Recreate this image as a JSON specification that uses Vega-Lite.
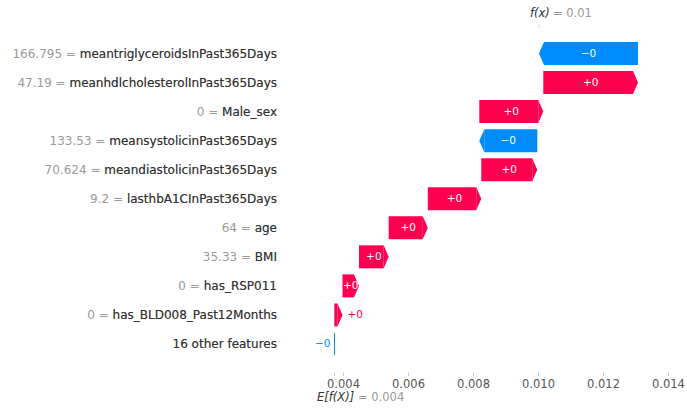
{
  "$schema": "https://vega.github.io/schema/vega-lite/v6.json",
  "width": 687,
  "height": 344,
  "autosize": {"type": "none"},
  "padding": {"left": 0, "right": 0, "top": 28, "bottom": 38},
  "background": "white",
  "config": {"view": {"stroke": null}, "font": "DejaVu Sans", "text": {"font": "DejaVu Sans"}},
  "data": {
    "values": [
      {"feature": "meantriglyceroidsInPast365Days", "label": "166.795 = meantriglyceroidsInPast365Days", "start": 0.013077, "end": 0.010031, "shap": "−0"},
      {"feature": "meanhdlcholesterolInPast365Days", "label": "47.19 = meanhdlcholesterolInPast365Days", "start": 0.010163, "end": 0.013077, "shap": "+0"},
      {"feature": "Male_sex", "label": "0 = Male_sex", "start": 0.008194, "end": 0.010163, "shap": "+0"},
      {"feature": "meansystolicinPast365Days", "label": "133.53 = meansystolicinPast365Days", "start": 0.009978, "end": 0.008194, "shap": "−0"},
      {"feature": "meandiastolicinPast365Days", "label": "70.624 = meandiastolicinPast365Days", "start": 0.008255, "end": 0.009978, "shap": "+0"},
      {"feature": "lasthbA1CInPast365Days", "label": "9.2 = lasthbA1CInPast365Days", "start": 0.006609, "end": 0.008255, "shap": "+0"},
      {"feature": "age", "label": "64 = age", "start": 0.005406, "end": 0.006609, "shap": "+0"},
      {"feature": "BMI", "label": "35.33 = BMI", "start": 0.004492, "end": 0.005406, "shap": "+0"},
      {"feature": "has_RSP011", "label": "0 = has_RSP011", "start": 0.003985, "end": 0.004492, "shap": "+0"},
      {"feature": "has_BLD008_Past12Months", "label": "0 = has_BLD008_Past12Months", "start": 0.003733, "end": 0.003985, "shap": "+0"},
      {"feature": "16 other features", "label": "16 other features", "start": 0.003738, "end": 0.003733, "shap": "−0"}
    ]
  },
  "layer": [
    {
      "transform": [{"filter": "datum.end > datum.start"}],
      "mark": {"type": "bar", "color": "#ff0051", "x2Offset": -5},
      "encoding": {
        "y": {"field": "feature", "type": "nominal", "sort": null, "axis": null,
              "scale": {"type": "band", "paddingInner": 0.208, "paddingOuter": 0.525, "align": 0.459,
                        "domain": ["meantriglyceroidsInPast365Days", "meanhdlcholesterolInPast365Days", "Male_sex", "meansystolicinPast365Days", "meandiastolicinPast365Days", "lasthbA1CInPast365Days", "age", "BMI", "has_RSP011", "has_BLD008_Past12Months", "16 other features"]}},
        "x": {"field": "start", "type": "quantitative",
              "scale": {"domain": [-0.006554, 0.014585], "nice": false, "zero": false},
              "axis": {"values": [0.003738, 0.004, 0.006, 0.008, 0.010, 0.012, 0.014], "format": ".3f",
                       "labelExpr": "datum.value < 0.0039 ? '' : datum.label",
                       "domain": false, "grid": false, "tickSize": 3.5, "tickColor": "#c8c8c8",
                       "labelColor": "#555555", "labelFontSize": 11.5, "labelPadding": 3,
                       "labelOverlap": false, "labelFlush": false, "labelBound": false,
                       "labelFont": "DejaVu Sans", "title": null}},
        "x2": {"field": "end"}
      }
    },
    {
      "transform": [{"filter": "datum.end < datum.start && datum.feature != '16 other features'"}],
      "mark": {"type": "bar", "color": "#008bfb", "x2Offset": 5},
      "encoding": {
        "y": {"field": "feature", "type": "nominal", "sort": null},
        "x": {"field": "start", "type": "quantitative"},
        "x2": {"field": "end"}
      }
    },
    {
      "transform": [{"filter": "datum.end > datum.start"}],
      "mark": {"type": "point", "shape": "M-0.4348,-1L0,0L-0.4348,1Z", "size": 529, "filled": true, "opacity": 1, "color": "#ff0051", "strokeWidth": 0},
      "encoding": {
        "y": {"field": "feature", "type": "nominal", "sort": null},
        "x": {"field": "end", "type": "quantitative"}
      }
    },
    {
      "transform": [{"filter": "datum.end < datum.start && datum.feature != '16 other features'"}],
      "mark": {"type": "point", "shape": "M0.4348,-1L0,0L0.4348,1Z", "size": 529, "filled": true, "opacity": 1, "color": "#008bfb", "strokeWidth": 0},
      "encoding": {
        "y": {"field": "feature", "type": "nominal", "sort": null},
        "x": {"field": "end", "type": "quantitative"}
      }
    },
    {
      "transform": [{"filter": "datum.feature == '16 other features'"}],
      "mark": {"type": "tick", "color": "#008bfb", "thickness": 1, "size": 22, "orient": "vertical", "opacity": 1},
      "encoding": {
        "y": {"field": "feature", "type": "nominal", "sort": null},
        "x": {"field": "start", "type": "quantitative"}
      }
    },
    {
      "transform": [
        {"filter": "datum.feature != '16 other features' && datum.feature != 'has_BLD008_Past12Months'"},
        {"calculate": "(datum.start + datum.end) / 2", "as": "mid"}
      ],
      "mark": {"type": "text", "color": "white", "fontSize": 10.5, "align": "center", "baseline": "middle"},
      "encoding": {
        "y": {"field": "feature", "type": "nominal", "sort": null},
        "x": {"field": "mid", "type": "quantitative"},
        "text": {"field": "shap"}
      }
    },
    {
      "transform": [{"filter": "datum.feature == 'has_BLD008_Past12Months'"}],
      "mark": {"type": "text", "color": "#ff0051", "fontSize": 10.5, "align": "left", "baseline": "middle", "dx": 5},
      "encoding": {
        "y": {"field": "feature", "type": "nominal", "sort": null},
        "x": {"field": "end", "type": "quantitative"},
        "text": {"field": "shap"}
      }
    },
    {
      "transform": [{"filter": "datum.feature == '16 other features'"}],
      "mark": {"type": "text", "color": "#008bfb", "fontSize": 10.5, "align": "right", "baseline": "middle", "dx": -4},
      "encoding": {
        "y": {"field": "feature", "type": "nominal", "sort": null},
        "x": {"field": "start", "type": "quantitative"},
        "text": {"field": "shap"}
      }
    },
    {
      "mark": {"type": "text", "color": "#999999", "fontSize": 12, "align": "right", "baseline": "middle"},
      "encoding": {
        "y": {"field": "feature", "type": "nominal", "sort": null},
        "x": {"datum": 0.001969, "type": "quantitative"},
        "text": {"field": "label"}
      }
    },
    {
      "mark": {"type": "text", "color": "#333333", "fontSize": 12, "align": "right", "baseline": "middle"},
      "encoding": {
        "y": {"field": "feature", "type": "nominal", "sort": null},
        "x": {"datum": 0.001969, "type": "quantitative"},
        "text": {"field": "feature"}
      }
    },
    {
      "transform": [{"filter": "datum.feature == 'meantriglyceroidsInPast365Days'"}],
      "mark": {"type": "tick", "color": "#c8c8c8", "thickness": 1, "size": 3.5, "orient": "vertical", "yOffset": -27.25},
      "encoding": {
        "y": {"field": "feature", "type": "nominal", "sort": null},
        "x": {"field": "end", "type": "quantitative"}
      }
    },
    {
      "transform": [{"filter": "datum.feature == 'meantriglyceroidsInPast365Days'"}],
      "mark": {"type": "text", "text": "f(x)", "fontStyle": "italic", "color": "#333333", "fontSize": 11.5, "align": "left", "baseline": "middle", "dx": -9, "yOffset": -39.5},
      "encoding": {
        "y": {"field": "feature", "type": "nominal", "sort": null},
        "x": {"field": "end", "type": "quantitative"}
      }
    },
    {
      "transform": [{"filter": "datum.feature == 'meantriglyceroidsInPast365Days'"}],
      "mark": {"type": "text", "text": "= 0.01", "color": "#999999", "fontSize": 11.5, "align": "left", "baseline": "middle", "dx": 14, "yOffset": -39.5},
      "encoding": {
        "y": {"field": "feature", "type": "nominal", "sort": null},
        "x": {"field": "end", "type": "quantitative"}
      }
    },
    {
      "transform": [{"filter": "datum.feature == '16 other features'"}],
      "mark": {"type": "text", "text": "E[f(X)]", "fontStyle": "italic", "color": "#333333", "fontSize": 11.5, "align": "left", "baseline": "middle", "dx": -17.5, "yOffset": 54},
      "encoding": {
        "y": {"field": "feature", "type": "nominal", "sort": null},
        "x": {"field": "start", "type": "quantitative"}
      }
    },
    {
      "transform": [{"filter": "datum.feature == '16 other features'"}],
      "mark": {"type": "text", "text": "= 0.004", "color": "#999999", "fontSize": 11.5, "align": "left", "baseline": "middle", "dx": 23.5, "yOffset": 54},
      "encoding": {
        "y": {"field": "feature", "type": "nominal", "sort": null},
        "x": {"field": "start", "type": "quantitative"}
      }
    }
  ]
}
